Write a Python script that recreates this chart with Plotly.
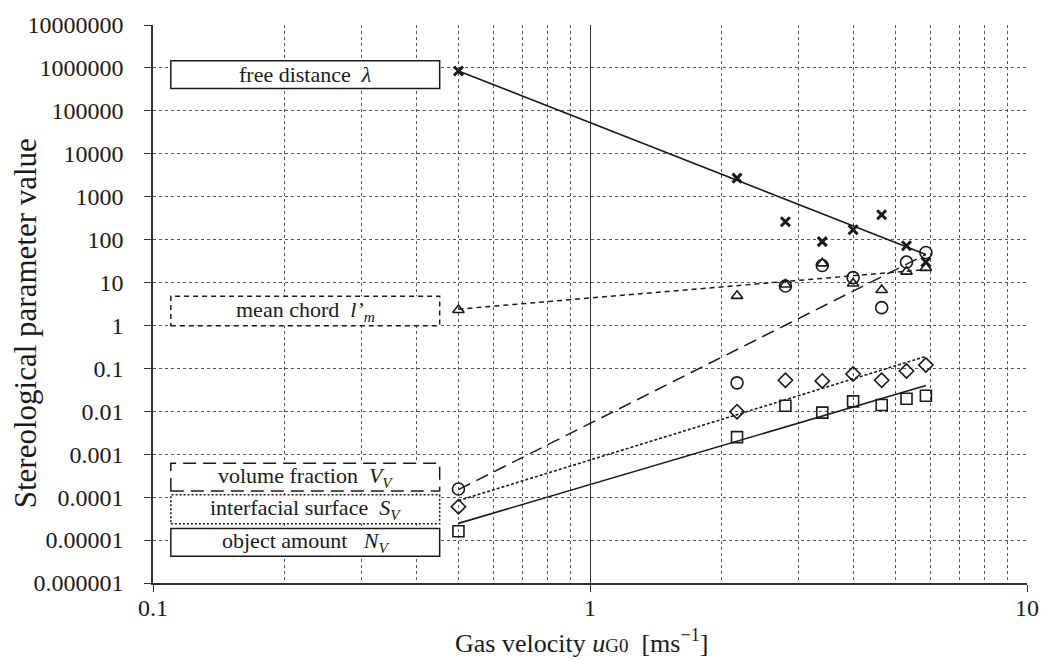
import plotly.graph_objects as go

# ---- data ----
gas_velocity = [0.5, 2.17, 2.8, 3.4, 4.0, 4.65, 5.3, 5.87]

free_distance = [850000, 2700, 260, 90, 170, 380, 72, 30]
mean_chord = [2.3, 4.9, 9.0, 28, 9.5, 6.7, 18, 22]
volume_fraction = [0.000155, 0.046, 8.3, 25, 13, 2.6, 30, 50]
interfacial_surface = [0.00006, 0.0098, 0.053, 0.051, 0.074, 0.053, 0.087, 0.12]
object_amount = [0.000016, 0.0025, 0.0135, 0.0093, 0.017, 0.014, 0.0196, 0.023]

# trend lines (power fits as drawn, endpoints)
trend_x = [0.5, 5.87]
free_distance_trend = [850000, 45]
mean_chord_trend = [2.4, 20]
volume_fraction_trend = [0.00015, 45]
interfacial_surface_trend = [0.000083, 0.19]
object_amount_trend = [0.0000245, 0.04]

y_tick_vals = [1e7, 1e6, 1e5, 1e4, 1e3, 1e2, 1e1, 1, 0.1, 0.01, 0.001, 0.0001, 0.00001, 0.000001]
y_tick_text = ["10000000", "1000000", "100000", "10000", "1000", "100", "10", "1",
               "0.1", "0.01", "0.001", "0.0001", "0.00001", "0.000001"]
x_tick_vals = [0.1, 1, 10]
x_tick_text = ["0.1", "1", "10"]

legend_labels = [
    "free distance  <i>λ</i>",
    "mean chord  <i>l’<sub>m</sub></i>",
    "volume fraction  <i>V<sub>V</sub></i>",
    "interfacial surface  <i>S<sub>V</sub></i>",
    "object amount   <i>N<sub>V</sub></i>",
]

FONT = "Times New Roman, Liberation Serif, Times, serif"
INK = "#1a1a1a"
GRID = "#555555"

fig = go.Figure()

# trend lines
trend_specs = [
    (free_distance_trend, "solid", 1.6),
    (mean_chord_trend, "5px,4px", 1.5),
    (volume_fraction_trend, "13px,7px", 1.5),
    (interfacial_surface_trend, "3px,2px", 1.6),
    (object_amount_trend, "solid", 1.6),
]
for vals, dash, w in trend_specs:
    fig.add_trace(go.Scatter(x=trend_x, y=vals, mode="lines",
                             line=dict(color=INK, width=w, dash=dash),
                             showlegend=False, hoverinfo="skip"))

# markers
marker_specs = [
    (free_distance, "x-thin-open", 9, 3),
    (mean_chord, "triangle-up-open", 10, 1.6),
    (volume_fraction, "circle-open", 12, 1.6),
    (interfacial_surface, "diamond-open", 11, 1.6),
    (object_amount, "square-open", 11, 1.6),
]
for vals, sym, size, lw in marker_specs:
    fig.add_trace(go.Scatter(x=gas_velocity, y=vals, mode="markers",
                             marker=dict(symbol=sym, size=size, color=INK,
                                         line=dict(color=INK, width=lw)),
                             showlegend=False))

# legend boxes (paper coordinates)
box_y = [(0.886, 0.936), (0.461, 0.514), (0.165, 0.2145), (0.106, 0.158), (0.048, 0.0975)]
box_dash = ["solid", "5px,4px", "13px,7px", "2px,2px", "solid"]
box_x0, box_x1 = 0.0204, 0.328
for label, (y0, y1), dash in zip(legend_labels, box_y, box_dash):
    fig.add_shape(type="rect", xref="paper", yref="paper",
                  x0=box_x0, x1=box_x1, y0=y0, y1=y1,
                  line=dict(color=INK, width=1.5, dash=dash),
                  fillcolor="white", layer="above")
    fig.add_annotation(xref="paper", yref="paper",
                       x=(box_x0 + box_x1) / 2, y=(y0 + y1) / 2,
                       text=label, showarrow=False,
                       font=dict(family=FONT, size=22, color=INK),
                       xanchor="center", yanchor="middle")

# axis titles
fig.add_annotation(xref="paper", yref="paper", x=-0.145, y=0.466,
                   text="Stereological parameter value", textangle=-90,
                   showarrow=False, xanchor="center", yanchor="middle",
                   font=dict(family=FONT, size=31, color=INK))
fig.add_annotation(xref="paper", yref="paper", x=0.49, y=-0.105,
                   text="Gas velocity <i>u</i><span style='font-size:19px'>G0</span>  [ms<sup>−1</sup>]",
                   showarrow=False, xanchor="center", yanchor="middle",
                   font=dict(family=FONT, size=26, color=INK))

fig.update_layout(
    width=1051, height=660,
    margin=dict(l=153, r=16, t=19, b=77),
    paper_bgcolor="white", plot_bgcolor="white",
    font=dict(family=FONT, color=INK),
    showlegend=False,
)
fig.update_xaxes(
    type="log", range=[-1, 1],
    tickvals=x_tick_vals, ticktext=x_tick_text,
    tickfont=dict(family=FONT, size=24, color=INK),
    ticks="outside", ticklen=7, tickcolor="#333333", ticklabelstandoff=-5,
    showline=True, linecolor="#333333", linewidth=1.5, mirror=False,
    showgrid=True, gridcolor="#333333", gridwidth=1,
    minor=dict(dtick="D1", showgrid=True, gridcolor=GRID, griddash="dot", gridwidth=1, ticks=""),
    zeroline=False,
)
fig.update_yaxes(
    type="log", range=[-6, 7],
    tickvals=y_tick_vals, ticktext=y_tick_text,
    tickfont=dict(family=FONT, size=24, color=INK),
    ticks="outside", ticklen=7, tickcolor="#333333", ticklabelstandoff=16,
    showline=True, linecolor="#333333", linewidth=1.5,
    showgrid=True, gridcolor=GRID, griddash="dot", gridwidth=1,
    zeroline=False,
)

fig.write_html("out.html")
